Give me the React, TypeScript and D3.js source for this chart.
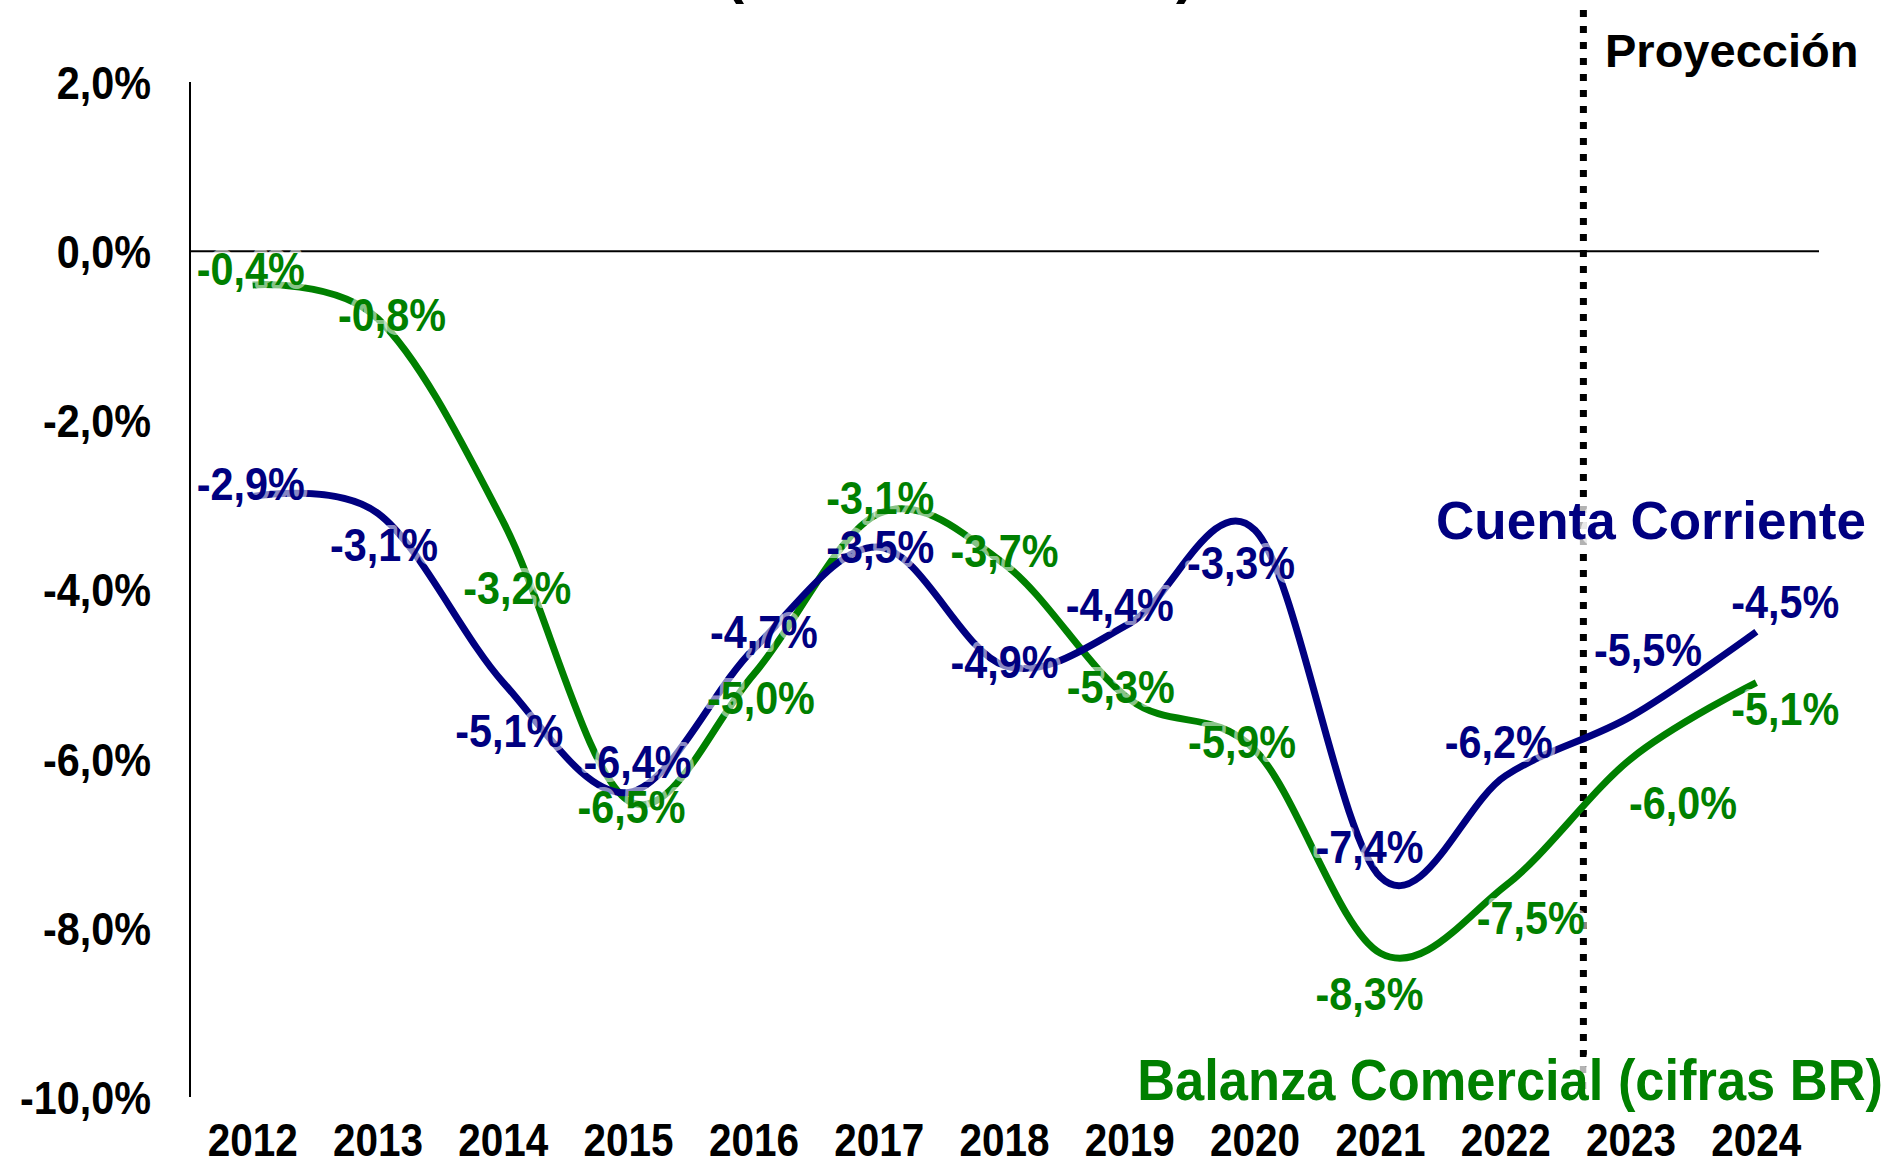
import React from 'react';
import * as d3 from 'd3';

const years = ['2012', '2013', '2014', '2015', '2016', '2017', '2018', '2019', '2020', '2021', '2022', '2023', '2024'];
const cuentaCorriente = [-2.9, -3.1, -5.1, -6.4, -4.7, -3.5, -4.9, -4.4, -3.3, -7.4, -6.2, -5.5, -4.5];
const balanzaComercial = [-0.4, -0.8, -3.2, -6.5, -5.0, -3.1, -3.7, -5.3, -5.9, -8.3, -7.5, -6.0, -5.1];
const yTicks = [2, 0, -2, -4, -6, -8, -10];
const projectionYear = '2023';

// label offsets from each point (layout only)
const ccLabelDx = [-2, 6, 6, 9, 10, 1, 0, -10, -14, -11, -7, 17, 29];
const ccLabelDy = [-13, 31, 48, -31, -18, -1, -5, -19, 32, -31, -35, -67, -31];
const bcLabelDx = [-2, 14, 14, 3, 7, 1, 0, -9, -13, -11, 25, 52, 29];
const bcLabelDy = [-17, -5, 65, 5, 23, -16, -14, -13, -9, 40, 32, 43, 26];

const W = 1895;
const H = 1165;
const FONT = "'Liberation Sans', Arial, sans-serif";
const NAVY = '#000080';
const GREEN = '#008000';

const fmt = (v: number) => v.toFixed(1).replace('.', ',') + '%';

const App = () => {
  const x = d3.scaleBand().domain(years).range([190, 1819]);
  const cx = (yr: string) => (x(yr) as number) + x.bandwidth() / 2;
  const y = d3.scaleLinear().domain([-10, 2]).range([1097, 82]);

  const line = d3.line<number>()
    .x((d, i) => cx(years[i]))
    .y(d => y(d))
    .curve(d3.curveCardinal.tension(0));

  const projX = (x(projectionYear) as number) + 15;

  const series = [
    { values: balanzaComercial, color: GREEN, dx: bcLabelDx, dy: bcLabelDy },
    { values: cuentaCorriente, color: NAVY, dx: ccLabelDx, dy: ccLabelDy },
  ];

  return (
    <svg width={W} height={H} style={{ position: 'absolute', left: 0, top: 0, background: '#fff' }}
      fontFamily={FONT} fontWeight="bold">
      <text x={960} y={-8} fontSize={58} textAnchor="middle" fill="#000">(% del PIB anual)</text>

      {/* axes */}
      <line x1={190} x2={190} y1={y(2)} y2={y(-10)} stroke="#000" strokeWidth={2} />
      <line x1={190} x2={1819} y1={y(0)} y2={y(0)} stroke="#000" strokeWidth={2} />
      {yTicks.map(t => (
        <text key={t} transform={`translate(151,${y(t)}) scale(0.88,1)`} dy="0.36em" fontSize={47} textAnchor="end" fill="#000">{fmt(t)}</text>
      ))}
      {years.map(yr => (
        <text key={yr} transform={`translate(${cx(yr)},1156) scale(0.88,1)`} fontSize={46} textAnchor="middle" fill="#000">{yr}</text>
      ))}

      {/* projection marker */}
      <line x1={projX} x2={projX} y1={10} y2={1095} stroke="#000" strokeWidth={7} strokeDasharray="7,9" />
      <text x={1605} y={67} fontSize={47} fill="#000">Proyección</text>

      {series.map((s, si) => (
        <path key={si} d={line(s.values) || ''} fill="none" stroke={s.color} strokeWidth={7} />
      ))}

      {series.map((s, si) => s.values.map((v, i) => (
        <text key={si + '-' + i}
          transform={`translate(${cx(years[i]) + s.dx[i]},${y(v) + s.dy[i]}) scale(0.88,1)`}
          dy="0.36em"
          fontSize={47}
          textAnchor="middle"
          fill={s.color}
          stroke="#fff" strokeOpacity={0.55} strokeWidth={8} strokeLinejoin="round"
          style={{ paintOrder: 'stroke' }}>{fmt(v)}</text>
      )))}

      <text x={1866} y={520} dy="0.36em" fontSize={53} textAnchor="end" fill={NAVY}
        stroke="#fff" strokeOpacity={0.7} strokeWidth={14} strokeLinejoin="round" style={{ paintOrder: 'stroke' }}>Cuenta Corriente</text>
      <text transform="translate(1883,1079) scale(0.92,1)" dy="0.36em" fontSize={57} textAnchor="end" fill={GREEN}
        stroke="#fff" strokeOpacity={0.7} strokeWidth={14} strokeLinejoin="round" style={{ paintOrder: 'stroke' }}>Balanza Comercial (cifras BR)</text>
    </svg>
  );
};

export default App;
